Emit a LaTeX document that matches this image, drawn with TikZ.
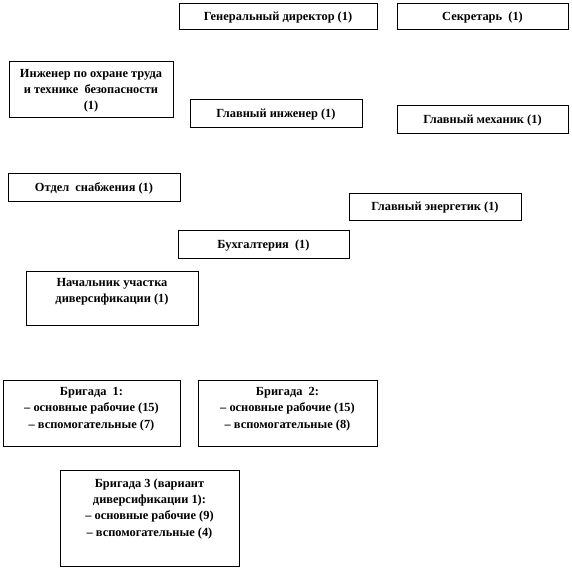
\documentclass[tikz,border=0pt]{standalone}
\usepackage{fontspec}
\setmainfont{Liberation Serif}
\begin{document}
\begin{tikzpicture}[x=1pt,y=1pt,
  box/.style={draw=black, line width=0.9pt, rectangle, inner sep=0pt},
  txt/.style={inner sep=0pt, align=center, font=\fontsize{12.4}{16.3}\selectfont\bfseries},
  one/.style={txt, anchor=base},
  many/.style={txt, anchor=north}]
\useasboundingbox (0,0) rectangle (572,-569);
\node[box, minimum width=198, minimum height=26] (gd) at (278,-16) {};
\node[one] (gdt) at ([yshift=-4.5]gd.center) {Генеральный директор (1)};
\node[box, minimum width=171, minimum height=26] (sek) at (482.5,-16) {};
\node[one] (sekt) at ([yshift=-4.5]sek.center) {Секретарь\ \ (1)};
\node[box, minimum width=164, minimum height=56] (ing) at (91,-89) {};
\node[many] (ingt) at ([yshift=-8.5]ing.north) {Инженер по охране труда\\и технике\ \ безопасности\\(1)};
\node[box, minimum width=172, minimum height=28] (gi) at (276,-113) {};
\node[one] (git) at ([yshift=-4.5]gi.center) {Главный инженер (1)};
\node[box, minimum width=171, minimum height=28] (gm) at (482.5,-119) {};
\node[one] (gmt) at ([yshift=-4.5]gm.center) {Главный механик (1)};
\node[box, minimum width=172, minimum height=28] (os) at (94,-187) {};
\node[one] (ost) at ([yshift=-4.5]os.center) {Отдел\ \ снабжения (1)};
\node[box, minimum width=172, minimum height=27] (ge) at (435,-206.5) {};
\node[one] (get) at ([yshift=-4.5]ge.center) {Главный энергетик (1)};
\node[box, minimum width=171, minimum height=28] (bu) at (263.5,-244) {};
\node[one] (but) at ([yshift=-4.5]bu.center) {Бухгалтерия\ \ (1)};
\node[box, minimum width=172, minimum height=54] (nu) at (112,-298) {};
\node[many] (nut) at ([yshift=-7.5]nu.north) {Начальник участка\\диверсификации (1)};
\node[box, minimum width=177, minimum height=66] (b1) at (91.5,-413) {};
\node[many] (b1t) at ([yshift=-7.5]b1.north) {Бригада\ \ 1:\\– основные рабочие (15)\\– вспомогательные (7)};
\node[box, minimum width=179, minimum height=66] (b2) at (287.5,-413) {};
\node[many] (b2t) at ([yshift=-7.5]b2.north) {Бригада\ \ 2:\\– основные рабочие (15)\\– вспомогательные (8)};
\node[box, minimum width=179, minimum height=96] (b3) at (149.5,-518) {};
\node[many] (b3t) at ([yshift=-9]b3.north) {Бригада 3 (вариант\\диверсификации 1):\\– основные рабочие (9)\\– вспомогательные (4)};
\end{tikzpicture}
\end{document}
